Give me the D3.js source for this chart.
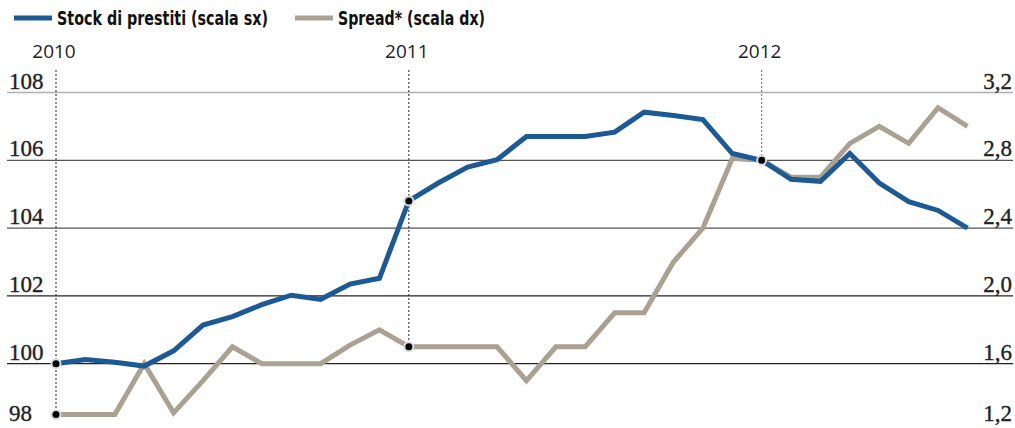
<!DOCTYPE html>
<html><head><meta charset="utf-8">
<script src="https://cdn.jsdelivr.net/npm/d3@7"></script>
<style>body{margin:0;background:#fff}svg{display:block}</style>
</head><body>
<svg id="c" width="1015" height="428"></svg>
<script>
// Monthly data, Jan 2010 .. Aug 2012
const months = d3.range(32).map(i => new Date(2010, i, 1));
const stock = [100.0,100.12,100.04,99.93,100.38,101.14,101.39,101.74,102.02,101.9,102.35,102.52,
  104.8,105.33,105.8,106.02,106.7,106.7,106.7,106.83,107.42,107.32,107.2,106.2,
  106.0,105.44,105.38,106.2,105.33,104.78,104.52,104.0];
const spread = [1.3,1.3,1.3,1.6,1.31,1.5,1.7,1.6,1.6,1.6,1.71,1.8,
  1.7,1.7,1.7,1.7,1.5,1.7,1.7,1.9,1.9,2.2,2.4,2.81,
  2.8,2.7,2.7,2.9,3.0,2.9,3.11,3.0];
const leftTicks = [98,100,102,104,106,108];
const rightTicks = [1.2,1.6,2.0,2.4,2.8,3.2];
const yearLabels = ["2010","2011","2012"];
const yearIdx = [0,12,24];
const seriesNames = ["Stock di prestiti (scala sx)","Spread* (scala dx)"];
const colors = ["#1d5a93","#aaa193"];

const svg = d3.select("#c");
const x = d3.scaleLinear().domain([0,31]).range([56,967.5]);
const yL = d3.scaleLinear().domain([98,108]).range([431.5,92.5]);
const yR = d3.scaleLinear().domain([1.2,3.2]).range([431.5,92.5]);

// gridlines
const gridCol = {108:"#b0b0b0",106:"#555",104:"#555",102:"#222",100:"#222",98:"#222"};
svg.append("g").selectAll("line").data(leftTicks).join("line")
  .attr("x1",7).attr("x2",1013)
  .attr("y1",d=>yL(d)).attr("y2",d=>yL(d))
  .attr("stroke",d=>gridCol[d]).attr("stroke-width",1.3);

// left labels
svg.append("g").selectAll("text").data(leftTicks).join("text")
  .attr("x",9).attr("y",d=> d===98 ? 421 : yL(d)-4)
  .attr("font-family","'Liberation Serif','DejaVu Serif',serif")
  .attr("font-size",23).attr("fill","#222").attr("stroke","#222").attr("stroke-width",0.35)
  .text(d=>d);
// right labels
svg.append("g").selectAll("text").data(rightTicks).join("text")
  .attr("x",1012).attr("y",d=> Math.abs(d-1.2)<1e-9 ? 421 : yR(d)-4)
  .attr("text-anchor","end")
  .attr("font-family","'Liberation Serif','DejaVu Serif',serif")
  .attr("font-size",23).attr("fill","#222").attr("stroke","#222").attr("stroke-width",0.35)
  .text(d=>d3.format(".1f")(d).replace(".",","));

// year dotted lines
const yearBottom = [yR(spread[0]), yR(spread[12]), yL(stock[24])];
svg.append("g").selectAll("line").data(yearIdx).join("line")
  .attr("x1",d=>x(d)).attr("x2",d=>x(d))
  .attr("y1",70).attr("y2",(d,i)=>yearBottom[i])
  .attr("stroke",(d,i)=> i===2 ? "#666" : "#222").attr("stroke-width",1)
  .attr("stroke-dasharray","2,2");

svg.append("g").selectAll("text").data(yearIdx).join("text")
  .attr("x",d=>x(d)-2).attr("y",58).attr("text-anchor","middle")
  .attr("font-family","'Open Sans','DejaVu Sans',sans-serif")
  .attr("font-size",19).attr("fill","#222")
  .text((d,i)=>yearLabels[i]);

// lines
const lineL = d3.line().x((d,i)=>x(i)).y(d=>yL(d));
const lineR = d3.line().x((d,i)=>x(i)).y(d=>yR(d));
svg.append("path").datum(spread).attr("d",lineR).attr("fill","none")
  .attr("stroke",colors[1]).attr("stroke-width",5).attr("stroke-linejoin","miter");
svg.append("path").datum(stock).attr("d",lineL).attr("fill","none")
  .attr("stroke",colors[0]).attr("stroke-width",5).attr("stroke-linejoin","miter");

// dots
const dots = [[0,yL(stock[0])],[0,yR(spread[0])],[12,yL(stock[12])],[12,yR(spread[12])],[24,yL(stock[24])]];
svg.append("g").selectAll("circle").data(dots).join("circle")
  .attr("cx",d=>x(d[0])).attr("cy",d=>d[1]).attr("r",4.5)
  .attr("fill","#000").attr("stroke","#ddd").attr("stroke-width",2);

// legend
const lg = svg.append("g");
const legX = [14,295];
const legW = [211,147];
lg.selectAll("line").data(seriesNames).join("line")
  .attr("x1",(d,i)=>legX[i]).attr("x2",(d,i)=>legX[i]+38)
  .attr("y1",18).attr("y2",18).attr("stroke",(d,i)=>colors[i]).attr("stroke-width",5);
lg.selectAll("text").data(seriesNames).join("text")
  .attr("x",(d,i)=>legX[i]+43).attr("y",25)
  .attr("font-family","'DejaVu Sans Condensed','Liberation Sans Narrow',sans-serif")
  .attr("font-stretch","condensed").attr("font-weight","bold")
  .attr("font-size",19).attr("fill","#111")
  .attr("textLength",(d,i)=>legW[i]).attr("lengthAdjust","spacingAndGlyphs")
  .text(d=>d);
</script>
</body></html>
